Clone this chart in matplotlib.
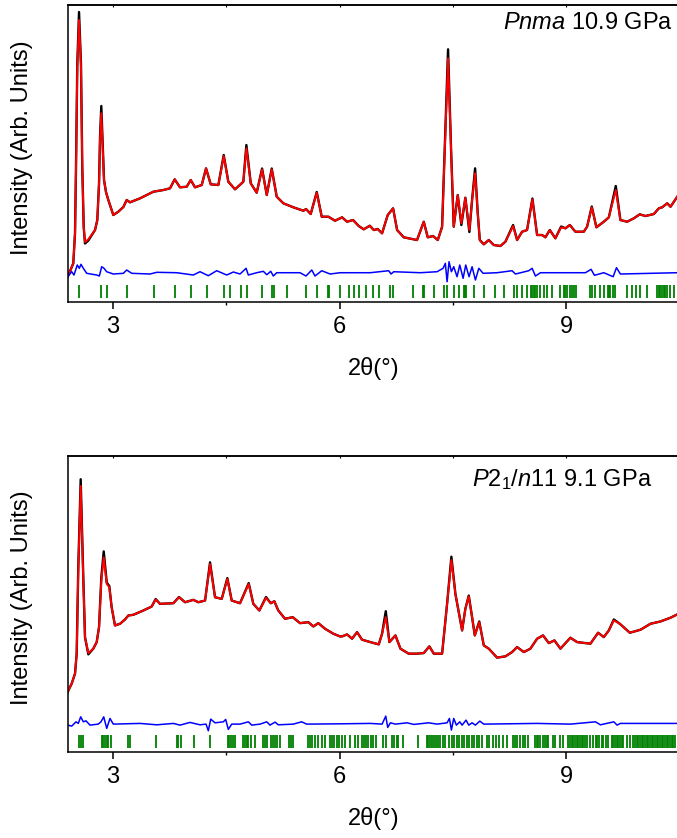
import matplotlib
matplotlib.use("Agg")
import matplotlib.pyplot as plt
from matplotlib.ticker import MultipleLocator

plt.rcParams.update({
    "font.family": "Liberation Sans",
    "font.size": 17,
    "mathtext.fontset": "custom",
    "mathtext.rm": "Liberation Sans",
    "mathtext.it": "Liberation Sans:italic",
})

# ---- Pnma 10.9 GPa ----
top_x = [2.400, 2.474, 2.497, 2.510, 2.527, 2.550, 2.576, 2.593, 2.612, 2.629,
         2.673, 2.762, 2.792, 2.815, 2.828, 2.845, 2.881, 2.907, 2.938, 3.004,
         3.070, 3.137, 3.181, 3.225, 3.358, 3.446, 3.534, 3.666, 3.755, 3.817,
         3.887, 3.976, 4.029, 4.086, 4.175, 4.232, 4.294, 4.395, 4.466, 4.527,
         4.616, 4.726, 4.766, 4.824, 4.903, 4.974, 5.036, 5.102, 5.168, 5.256,
         5.388, 5.521, 5.556, 5.618, 5.698, 5.764, 5.852, 5.940, 6.007, 6.033,
         6.099, 6.179, 6.254, 6.320, 6.400, 6.453, 6.506, 6.563, 6.638, 6.709,
         6.762, 6.850, 7.026, 7.115, 7.168, 7.238, 7.301, 7.358, 7.401, 7.437,
         7.477, 7.512, 7.565, 7.613, 7.666, 7.719, 7.755, 7.795, 7.830, 7.857,
         7.910, 7.976, 8.042, 8.130, 8.196, 8.298, 8.351, 8.417, 8.483, 8.554,
         8.616, 8.682, 8.726, 8.784, 8.858, 8.934, 8.991, 9.049, 9.123, 9.234,
         9.278, 9.340, 9.401, 9.499, 9.566, 9.658, 9.719, 9.808, 9.897, 9.976,
         10.050, 10.162, 10.228, 10.272, 10.338, 10.383, 10.472]
top_calc = [25.3, 38.7, 69.0, 135.0, 235.0, 282.0, 235.0, 135.0, 75.0, 60.0,
            62.7, 72.0, 82.0, 118.7, 162.0, 188.7, 122.0, 110.0, 102.0, 87.0,
            90.3, 95.0, 102.0, 99.7, 103.7, 107.0, 110.3, 112.0, 113.7, 122.7,
            114.7, 115.3, 122.0, 114.7, 117.0, 133.7, 117.7, 117.0, 146.0, 120.3,
            112.7, 120.3, 153.7, 118.7, 109.3, 132.7, 107.0, 132.7, 105.3, 98.7,
            94.7, 91.3, 93.0, 88.0, 109.3, 85.3, 85.3, 81.3, 83.7, 84.7,
            80.3, 82.0, 76.0, 72.7, 76.3, 72.0, 73.0, 68.7, 87.0, 93.7,
            72.0, 64.7, 62.0, 80.3, 64.7, 66.0, 62.0, 75.3, 168.7, 243.7,
            152.0, 75.3, 107.0, 78.7, 104.3, 72.0, 102.0, 128.7, 88.7, 62.0,
            57.7, 62.0, 57.0, 56.0, 60.3, 76.0, 62.0, 70.3, 72.0, 102.7,
            67.0, 67.0, 64.7, 72.0, 63.7, 74.7, 73.7, 77.0, 70.3, 70.3,
            75.3, 94.7, 74.7, 80.3, 84.7, 112.0, 82.0, 80.3, 83.7, 87.7,
            86.0, 88.0, 93.7, 94.7, 98.7, 95.3, 105.3]
top_obs = [25.3, 38.7, 69.0, 135.0, 238.0, 290.0, 238.0, 135.0, 75.0, 58.5,
           61.5, 72.0, 82.0, 118.7, 165.0, 196.0, 122.0, 110.0, 102.0, 87.0,
           90.3, 95.0, 102.0, 99.7, 103.7, 107.0, 110.3, 112.0, 113.7, 122.7,
           114.7, 115.3, 122.0, 114.7, 117.0, 133.7, 117.7, 117.0, 147.0, 120.3,
           112.7, 120.3, 157.0, 118.7, 109.3, 133.5, 107.0, 133.5, 105.3, 98.7,
           94.7, 91.3, 93.0, 88.0, 110.0, 85.3, 85.3, 81.3, 83.7, 84.7,
           80.3, 82.0, 76.0, 72.7, 76.3, 72.0, 73.0, 68.7, 87.0, 93.7,
           72.0, 64.7, 62.0, 80.3, 64.7, 66.0, 62.0, 75.3, 172.0, 252.7,
           152.0, 75.3, 107.0, 77.0, 104.3, 70.0, 102.0, 133.7, 88.7, 62.0,
           57.7, 62.0, 57.0, 56.0, 60.3, 77.0, 62.0, 70.3, 72.0, 103.5,
           67.0, 67.0, 64.7, 72.0, 63.7, 75.5, 73.7, 77.0, 70.3, 70.3,
           75.3, 95.5, 74.7, 80.3, 84.7, 116.0, 82.0, 80.3, 83.7, 87.7,
           86.0, 88.0, 93.7, 94.7, 98.7, 95.3, 105.3]

top_diff_x = [2.400, 2.453, 2.483, 2.527, 2.554, 2.576, 2.607, 2.652, 2.784, 2.819,
              2.850, 2.881, 2.916, 3.004, 3.137, 3.181, 3.248, 3.490, 3.579, 3.844,
              4.064, 4.152, 4.262, 4.373, 4.506, 4.594, 4.682, 4.762, 4.792, 4.903,
              4.991, 5.036, 5.089, 5.123, 5.168, 5.477, 5.556, 5.632, 5.675, 5.764,
              5.874, 6.007, 6.408, 6.651, 6.682, 6.718, 7.070, 7.291, 7.371, 7.401,
              7.424, 7.450, 7.481, 7.512, 7.556, 7.592, 7.636, 7.671, 7.715, 7.755,
              7.799, 7.844, 7.901, 8.086, 8.285, 8.329, 8.506, 8.550, 8.594, 8.660,
              9.256, 9.331, 9.375, 9.499, 9.623, 9.667, 9.719, 10.470]
top_diff = [25.3, 30.3, 27.0, 37.0, 33.7, 37.7, 33.7, 28.7, 27.0, 26.0,
            35.3, 33.7, 30.3, 28.0, 28.7, 32.0, 28.7, 28.0, 29.7, 29.3,
            27.0, 30.3, 26.3, 31.3, 27.0, 30.0, 28.0, 33.7, 27.0, 29.3,
            30.7, 27.3, 30.7, 26.0, 29.3, 29.3, 26.0, 32.0, 26.0, 31.3,
            28.0, 29.3, 29.3, 31.3, 28.0, 30.3, 29.3, 30.3, 33.7, 38.7,
            20.3, 40.3, 30.3, 35.3, 25.3, 37.0, 23.7, 37.0, 25.3, 35.3,
            22.0, 33.7, 28.7, 29.3, 31.3, 28.0, 31.3, 33.7, 26.0, 29.3,
            29.3, 32.7, 26.7, 29.3, 25.3, 34.3, 28.0, 29.3]

top_refl = [2.550, 2.845, 2.917, 3.185, 3.547, 3.825, 4.033, 4.241, 4.470, 4.550,
            4.691, 4.771, 4.977, 5.110, 5.132, 5.301, 5.556, 5.698, 5.844, 5.865,
            6.011, 6.122, 6.188, 6.254, 6.355, 6.444, 6.519, 6.665, 6.709, 6.974,
            7.106, 7.123, 7.248, 7.388, 7.424, 7.513, 7.579, 7.653, 7.666, 7.680,
            7.777, 7.910, 8.064, 8.175, 8.307, 8.351, 8.417, 8.483, 8.536, 8.550,
            8.572, 8.593, 8.616, 8.659, 8.704, 8.748, 8.815, 8.925, 8.970, 8.991,
            9.013, 9.057, 9.079, 9.110, 9.136, 9.314, 9.344, 9.380, 9.446, 9.499,
            9.552, 9.566, 9.587, 9.623, 9.653, 9.808, 9.874, 9.931, 9.976, 10.073,
            10.205, 10.228, 10.249, 10.272, 10.294, 10.315, 10.338, 10.381, 10.426]

# ---- P2_1/n11 9.1 GPa ----
bot_x = [2.400, 2.453, 2.497, 2.519, 2.540, 2.572, 2.603, 2.629, 2.673, 2.739,
         2.784, 2.815, 2.845, 2.877, 2.917, 2.951, 2.982, 3.026, 3.093, 3.159,
         3.203, 3.269, 3.401, 3.512, 3.565, 3.622, 3.799, 3.874, 3.954, 4.064,
         4.130, 4.219, 4.285, 4.351, 4.440, 4.514, 4.572, 4.682, 4.797, 4.858,
         4.938, 5.026, 5.089, 5.136, 5.189, 5.278, 5.380, 5.477, 5.586, 5.653,
         5.719, 5.808, 5.918, 6.007, 6.033, 6.099, 6.166, 6.232, 6.298, 6.408,
         6.519, 6.563, 6.612, 6.660, 6.740, 6.806, 6.915, 7.026, 7.115, 7.189,
         7.248, 7.358, 7.424, 7.481, 7.534, 7.623, 7.666, 7.711, 7.755, 7.791,
         7.850, 7.910, 7.976, 8.086, 8.196, 8.285, 8.351, 8.440, 8.527, 8.616,
         8.695, 8.771, 8.845, 8.925, 9.057, 9.146, 9.322, 9.424, 9.499, 9.566,
         9.632, 9.711, 9.844, 9.985, 10.118, 10.249, 10.381, 10.470]
bot_calc = [60.3, 68.7, 78.7, 98.7, 182.0, 267.0, 182.0, 115.3, 99.3, 103.7,
            110.3, 125.3, 172.0, 195.3, 168.7, 165.3, 145.3, 127.0, 128.7, 133.0,
            137.0, 137.7, 142.0, 146.0, 153.0, 148.7, 149.3, 155.3, 150.3, 152.7,
            150.3, 152.0, 188.7, 155.3, 153.7, 173.7, 152.0, 149.3, 168.7, 148.7,
            142.0, 154.7, 149.3, 151.3, 142.0, 133.7, 135.3, 129.3, 130.3, 126.0,
            129.3, 123.7, 118.7, 116.0, 116.0, 118.0, 113.7, 120.3, 112.7, 110.3,
            108.0, 118.7, 135.3, 110.3, 117.0, 103.7, 98.7, 98.7, 99.3, 106.0,
            98.7, 98.7, 148.7, 192.7, 158.7, 122.0, 143.7, 156.3, 135.3, 117.0,
            130.3, 107.0, 103.7, 94.7, 96.0, 100.3, 105.3, 100.3, 103.7, 113.7,
            117.0, 109.3, 112.0, 103.7, 114.7, 110.3, 108.7, 119.7, 115.3, 122.0,
            132.0, 128.7, 119.7, 122.7, 128.7, 131.0, 134.7, 138.0]
bot_obs = [60.3, 68.7, 78.7, 98.7, 185.0, 273.7, 185.0, 115.3, 98.0, 103.7,
           110.3, 125.3, 175.0, 201.3, 170.0, 166.5, 145.3, 127.0, 128.7, 133.0,
           137.0, 137.7, 142.0, 146.0, 153.5, 148.7, 149.3, 155.5, 150.3, 152.7,
           150.3, 152.0, 190.3, 155.3, 153.7, 174.5, 152.0, 149.3, 169.5, 148.7,
           142.0, 155.5, 149.3, 151.3, 142.0, 133.7, 135.3, 129.3, 130.3, 126.0,
           129.3, 123.7, 118.7, 116.0, 116.0, 118.0, 113.7, 120.3, 112.7, 110.3,
           108.0, 118.7, 141.3, 110.3, 117.0, 103.7, 98.7, 98.7, 99.3, 106.0,
           98.7, 98.7, 148.7, 196.0, 158.7, 122.0, 143.7, 157.0, 135.3, 117.0,
           131.0, 107.0, 103.7, 94.7, 96.0, 100.3, 105.3, 100.3, 103.7, 113.7,
           117.0, 109.3, 112.0, 103.7, 114.7, 110.3, 108.7, 119.7, 115.3, 122.0,
           133.0, 128.7, 119.7, 122.7, 128.7, 131.0, 134.7, 138.0]

bot_diff_x = [2.400, 2.453, 2.510, 2.540, 2.572, 2.607, 2.642, 2.695, 2.805, 2.841,
              2.877, 2.917, 2.960, 3.004, 3.358, 3.579, 3.799, 3.887, 4.020, 4.152,
              4.232, 4.262, 4.294, 4.351, 4.461, 4.492, 4.527, 4.572, 4.682, 4.792,
              4.837, 4.947, 5.036, 5.079, 5.146, 5.189, 5.388, 5.498, 5.565, 6.007,
              6.408, 6.563, 6.612, 6.638, 6.673, 6.740, 6.894, 6.983, 7.181, 7.291,
              7.424, 7.455, 7.481, 7.512, 7.547, 7.592, 7.623, 7.675, 7.711, 7.755,
              7.799, 7.857, 7.910, 8.616, 9.057, 9.389, 9.455, 9.632, 9.675, 9.719,
              10.470]
bot_diff = [27.0, 26.0, 30.3, 28.7, 35.3, 30.3, 31.3, 27.0, 28.0, 30.3,
            35.3, 23.7, 33.7, 28.0, 28.7, 27.3, 28.7, 27.0, 29.7, 27.3,
            28.0, 21.3, 33.0, 29.3, 30.3, 32.7, 22.7, 28.0, 28.0, 30.3,
            27.0, 28.0, 30.3, 27.0, 30.0, 27.3, 28.0, 30.3, 28.0, 28.3,
            28.7, 28.0, 36.0, 24.7, 29.3, 28.0, 29.3, 27.7, 29.3, 28.0,
            29.3, 33.7, 22.0, 33.7, 27.0, 30.3, 27.0, 32.0, 27.0, 29.3,
            27.0, 31.0, 28.0, 28.7, 28.0, 30.3, 27.3, 30.3, 27.0, 28.7,
            28.7]

bot_refl = [2.554, 2.572, 2.599, 2.850, 2.872, 2.894, 2.916, 2.938, 2.969, 3.203,
            3.225, 3.570, 3.843, 3.865, 3.896, 4.073, 4.285, 4.519, 4.541, 4.563,
            4.594, 4.620, 4.726, 4.748, 4.770, 4.792, 4.824, 4.881, 4.991, 5.013,
            5.036, 5.089, 5.115, 5.146, 5.176, 5.212, 5.335, 5.358, 5.388, 5.587,
            5.609, 5.640, 5.675, 5.719, 5.764, 5.808, 5.874, 5.897, 5.931, 5.963,
            5.997, 6.033, 6.073, 6.139, 6.205, 6.245, 6.294, 6.324, 6.351, 6.381,
            6.413, 6.448, 6.483, 6.580, 6.612, 6.699, 6.726, 6.758, 6.779, 6.837,
            7.044, 7.155, 7.176, 7.199, 7.221, 7.252, 7.278, 7.309, 7.331, 7.367,
            7.397, 7.454, 7.486, 7.521, 7.552, 7.583, 7.618, 7.649, 7.684, 7.719,
            7.751, 7.781, 7.817, 7.852, 7.883, 7.950, 7.984, 8.029, 8.073, 8.117,
            8.161, 8.215, 8.294, 8.325, 8.355, 8.391, 8.426, 8.457, 8.501, 8.589,
            8.612, 8.634, 8.656, 8.691, 8.722, 8.744, 8.766, 8.824, 8.854, 8.921,
            8.956, 9.031, 9.053, 9.075, 9.097, 9.119, 9.141, 9.163, 9.185, 9.208,
            9.229, 9.252, 9.274, 9.318, 9.362, 9.397, 9.415, 9.441, 9.473, 9.494,
            9.530, 9.560, 9.605, 9.627, 9.649, 9.671, 9.693, 9.715, 9.737, 9.759,
            9.804, 9.848, 9.891, 9.914, 9.936, 9.957, 9.980, 10.002, 10.024, 10.046,
            10.068, 10.090, 10.113, 10.135, 10.156, 10.179, 10.201, 10.222, 10.245,
            10.267, 10.289, 10.311, 10.334, 10.355, 10.377, 10.400, 10.422, 10.444]

labels = ["$Pnma$ 10.9 GPa", "$P$2$_1$/$n$11 9.1 GPa"]


def draw_panel(ax, x, obs, calc, dx, diff, refl, label, label_x, label_y):
    ax.plot(x, obs, color="black", lw=1.7)
    ax.plot(x, calc, color="red", lw=1.4)
    ax.plot(dx, diff, color="blue", lw=1.1)
    ax.vlines(refl, 4, 17, color="green", lw=1.3)
    ax.set_xlim(2.4, 10.5)
    ax.set_ylim(0, 297)
    ax.set_yticks([])
    ax.xaxis.set_major_locator(MultipleLocator(3))
    ax.xaxis.set_minor_locator(MultipleLocator(1.5))
    ax.tick_params(axis="x", which="major", direction="out", length=5, width=1.1, pad=5)
    ax.tick_params(axis="x", which="minor", direction="out", length=2.5, width=1.0)
    top = ax.secondary_xaxis("top")
    top.xaxis.set_major_locator(MultipleLocator(1.5))
    top.tick_params(direction="in", length=1.5, width=0.8, labeltop=False)
    for s in ax.spines.values():
        s.set_linewidth(1.1)
    top.spines["top"].set_linewidth(1.1)
    ax.set_xlabel("2θ(°)", labelpad=14)
    ax.text(label_x, label_y, label, transform=ax.transAxes, ha="right", va="center")


fig = plt.figure(figsize=(6.77, 8.38), dpi=100)
ax1 = fig.add_axes([0.1, 0.6396, 0.9035, 0.3544])
ax2 = fig.add_axes([0.1, 0.1026, 0.9035, 0.3532])

draw_panel(ax1, top_x, top_obs, top_calc, top_diff_x, top_diff, top_refl,
           labels[0], 0.989, 0.94)
draw_panel(ax2, bot_x, bot_obs, bot_calc, bot_diff_x, bot_diff, bot_refl,
           labels[1], 0.955, 0.92)

fig.text(22.5 / 677, 1 - 147.5 / 838, "Intensity (Arb. Units)", rotation=90,
         ha="center", va="center")
fig.text(22.5 / 677, 1 - 598 / 838, "Intensity (Arb. Units)", rotation=90,
         ha="center", va="center")

fig.savefig("out.png", dpi=100)
